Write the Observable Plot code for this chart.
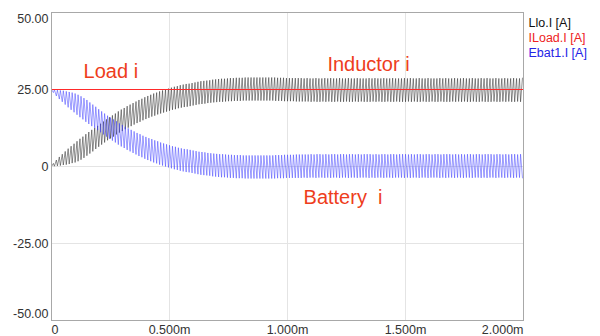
<!DOCTYPE html>
<html><head><meta charset="utf-8">
<script src="https://cdn.jsdelivr.net/npm/d3@7"></script>
<script src="https://cdn.jsdelivr.net/npm/@observablehq/plot@0.6"></script>
<style>
body{margin:0;background:#fff}
#chart{width:600px;height:336px;overflow:hidden}
</style>
</head><body><div id="chart"></div>
<script>
// switching cycle (ms) and the fraction of it where the inductor current peaks
const period = 0.0125;
const riseFrac = 0.65;

// Llo.I [A] - inductor current, trough / peak of each switching cycle
const lloTrough = [
 0.0, 0.1, 0.2, 0.3, 0.5, 0.6, 0.8, 1.1, 1.3, 1.7,
 2.2, 2.8, 3.5, 4.2, 4.9, 5.7, 6.4, 7.1, 7.8, 8.5,
 9.1, 9.7, 10.4, 11.0, 11.5, 12.1, 12.6, 13.1, 13.6, 14.1,
 14.5, 15.0, 15.4, 15.8, 16.2, 16.5, 16.9, 17.2, 17.5, 17.8,
 18.1, 18.4, 18.6, 18.9, 19.1, 19.3, 19.4, 19.6, 19.8, 20.0,
 20.2, 20.3, 20.4, 20.6, 20.7, 20.8, 20.9, 21.0, 21.0, 21.1,
 21.2, 21.2, 21.3, 21.3, 21.3, 21.4, 21.4, 21.4, 21.4, 21.4,
 21.4, 21.4, 21.4, 21.4, 21.4, 21.4, 21.3, 21.3, 21.3, 21.2,
 21.2, 21.2, 21.2, 21.1, 21.1, 21.1, 21.1, 21.1, 21.0, 21.1,
 21.0, 21.0, 21.1, 21.0, 21.1, 21.0, 21.0, 21.1, 21.0, 21.0,
 21.1, 21.0, 21.0, 21.1, 21.0, 21.1, 21.0, 21.0, 21.0, 21.1,
 21.0, 21.1, 21.0, 21.0, 21.1, 21.0, 21.0, 21.1, 21.0, 21.0,
 21.0, 21.1, 21.0, 21.1, 21.0, 21.0, 21.1, 21.0, 21.0, 21.1,
 21.0, 21.0, 21.1, 21.0, 21.0, 21.0, 21.1, 21.0, 21.1, 21.0,
 21.1, 21.0, 21.0, 21.1, 21.0, 21.0, 21.1, 21.0, 21.0, 21.0,
 21.1, 21.0, 21.0, 21.1, 21.0, 21.1, 21.0, 21.0, 21.1, 21.0
];
const lloPeak = [
 1.0, 2.1, 3.1, 4.0, 4.9, 5.8, 6.6, 7.4, 8.2, 9.0,
 9.7, 10.5, 11.2, 11.9, 12.5, 13.2, 13.9, 14.6, 15.3, 16.0,
 16.6, 17.2, 17.9, 18.5, 19.0, 19.6, 20.1, 20.6, 21.1, 21.6,
 22.0, 22.5, 22.9, 23.3, 23.7, 24.0, 24.4, 24.7, 25.0, 25.3,
 25.6, 25.9, 26.1, 26.4, 26.6, 26.8, 26.9, 27.1, 27.3, 27.5,
 27.7, 27.8, 27.9, 28.0, 28.2, 28.3, 28.4, 28.5, 28.5, 28.6,
 28.7, 28.7, 28.8, 28.8, 28.8, 28.9, 28.9, 28.9, 28.9, 28.9,
 28.9, 28.9, 28.9, 28.9, 28.9, 28.9, 28.8, 28.8, 28.8, 28.7,
 28.7, 28.7, 28.7, 28.7, 28.7, 28.6, 28.7, 28.6, 28.6, 28.7,
 28.6, 28.6, 28.7, 28.6, 28.7, 28.6, 28.6, 28.7, 28.6, 28.6,
 28.7, 28.6, 28.6, 28.7, 28.6, 28.6, 28.6, 28.7, 28.6, 28.7,
 28.6, 28.6, 28.7, 28.6, 28.6, 28.7, 28.6, 28.6, 28.6, 28.7,
 28.6, 28.7, 28.6, 28.6, 28.7, 28.6, 28.6, 28.7, 28.6, 28.6,
 28.6, 28.7, 28.6, 28.7, 28.6, 28.6, 28.7, 28.6, 28.6, 28.7,
 28.6, 28.6, 28.7, 28.6, 28.6, 28.7, 28.6, 28.7, 28.6, 28.6,
 28.7, 28.6, 28.6, 28.7, 28.6, 28.6, 28.7, 28.6, 28.6, 28.7
];

// Ebat1.I [A] - battery current, peak / trough of each switching cycle
const ebatPeak = [
 25.0, 24.9, 24.8, 24.7, 24.6, 24.4, 24.2, 24.0, 23.7, 23.3,
 22.8, 22.2, 21.6, 20.8, 20.1, 19.4, 18.6, 17.9, 17.2, 16.5,
 15.9, 15.3, 14.7, 14.0, 13.5, 12.9, 12.4, 11.9, 11.4, 10.9,
 10.5, 10.0, 9.6, 9.2, 8.9, 8.5, 8.2, 7.8, 7.5, 7.2,
 6.9, 6.6, 6.4, 6.1, 5.9, 5.7, 5.6, 5.4, 5.2, 5.0,
 4.8, 4.7, 4.6, 4.4, 4.3, 4.2, 4.1, 4.0, 4.0, 3.9,
 3.8, 3.8, 3.7, 3.7, 3.7, 3.6, 3.6, 3.6, 3.6, 3.6,
 3.6, 3.6, 3.6, 3.6, 3.6, 3.6, 3.7, 3.7, 3.7, 3.8,
 3.8, 3.8, 3.8, 3.9, 3.9, 3.9, 3.9, 3.9, 4.0, 3.9,
 4.0, 4.0, 3.9, 4.0, 3.9, 4.0, 4.0, 3.9, 4.0, 4.0,
 3.9, 4.0, 4.0, 3.9, 4.0, 3.9, 4.0, 4.0, 4.0, 3.9,
 4.0, 3.9, 4.0, 4.0, 3.9, 4.0, 4.0, 3.9, 4.0, 4.0,
 4.0, 3.9, 4.0, 3.9, 4.0, 4.0, 3.9, 4.0, 4.0, 3.9,
 4.0, 4.0, 3.9, 4.0, 4.0, 4.0, 3.9, 4.0, 3.9, 4.0,
 3.9, 4.0, 4.0, 3.9, 4.0, 4.0, 3.9, 4.0, 4.0, 4.0,
 3.9, 4.0, 4.0, 3.9, 4.0, 3.9, 4.0, 4.0, 3.9, 4.0
];
const ebatTrough = [
 24.0, 22.9, 21.9, 21.0, 20.1, 19.2, 18.4, 17.6, 16.8, 16.0,
 15.3, 14.5, 13.8, 13.1, 12.5, 11.8, 11.1, 10.4, 9.7, 9.0,
 8.4, 7.8, 7.1, 6.5, 6.0, 5.4, 4.9, 4.4, 3.9, 3.4,
 3.0, 2.5, 2.1, 1.7, 1.3, 1.0, 0.6, 0.3, 0.0, -0.3,
 -0.6, -0.9, -1.1, -1.4, -1.6, -1.8, -1.9, -2.1, -2.3, -2.5,
 -2.7, -2.8, -2.9, -3.0, -3.2, -3.3, -3.4, -3.5, -3.5, -3.6,
 -3.7, -3.7, -3.8, -3.8, -3.8, -3.9, -3.9, -3.9, -3.9, -3.9,
 -3.9, -3.9, -3.9, -3.9, -3.9, -3.9, -3.8, -3.8, -3.8, -3.7,
 -3.7, -3.7, -3.7, -3.7, -3.7, -3.6, -3.7, -3.6, -3.6, -3.7,
 -3.6, -3.6, -3.7, -3.6, -3.7, -3.6, -3.6, -3.7, -3.6, -3.6,
 -3.7, -3.6, -3.6, -3.7, -3.6, -3.6, -3.6, -3.7, -3.6, -3.7,
 -3.6, -3.6, -3.7, -3.6, -3.6, -3.7, -3.6, -3.6, -3.6, -3.7,
 -3.6, -3.7, -3.6, -3.6, -3.7, -3.6, -3.6, -3.7, -3.6, -3.6,
 -3.6, -3.7, -3.6, -3.7, -3.6, -3.6, -3.7, -3.6, -3.6, -3.7,
 -3.6, -3.6, -3.7, -3.6, -3.6, -3.7, -3.6, -3.7, -3.6, -3.6,
 -3.7, -3.6, -3.6, -3.7, -3.6, -3.6, -3.7, -3.6, -3.6, -3.7
];

// ILoad.I [A] - constant load current
const loadTime = [0, 2];
const loadValue = [25, 25];

const xTicks = [0, 0.5, 1, 1.5, 2];
const xTickLabels = ["0", "0.500m", "1.000m", "1.500m", "2.000m"];
const yTicks = [50, 25, 0, -25, -50];
const yTickLabels = ["50.00", "25.00", "0", "-25.00", "-50.00"];

const legendLabels = ["Llo.I [A]", "ILoad.I [A]", "Ebat1.I [A]"];
const legendColors = ["#111111", "#ee2222", "#2424e6"];

const noteLabels = ["Load i", "Inductor i", "Battery  i"];
const noteTime = [0.136, 1.169, 1.068];
const noteValue = [30.8, 33.1, -10.1];

// build tables
const llo = [];
const ebat = [];
lloTrough.forEach((v, i) => {
  const t0 = i * period, t1 = t0 + riseFrac * period;
  llo.push({t: t0, v: v}, {t: t1, v: lloPeak[i]});
  ebat.push({t: t0, v: ebatPeak[i]}, {t: t1, v: ebatTrough[i]});
});
const load = loadTime.map((t, i) => ({t, v: loadValue[i]}));
const notes = noteLabels.map((label, i) => ({label, t: noteTime[i], v: noteValue[i]}));

const xf = d => xTickLabels[xTicks.indexOf(d)];
const yf = d => yTickLabels[yTicks.indexOf(d)];
const axisFont = {fill: "#333", tickSize: 0};

const chart = Plot.plot({
  width: 600,
  height: 336,
  marginLeft: 51,
  marginRight: 77,
  marginTop: 12,
  marginBottom: 16,
  style: {fontFamily: "'Liberation Sans', Arial, sans-serif", fontSize: "12.5px", background: "#fff"},
  x: {domain: [0, 2], label: null},
  y: {domain: [-50, 50], label: null},
  marks: [
    Plot.gridX([0.5, 1, 1.5], {stroke: "#e4e4e4", strokeOpacity: 1}),
    Plot.gridY([0, -25], {stroke: "#e4e4e4", strokeOpacity: 1}),
    Plot.line(llo, {x: "t", y: "v", stroke: "#222222", strokeWidth: 0.5}),
    Plot.line(ebat, {x: "t", y: "v", stroke: "#3a3aff", strokeWidth: 0.5}),
    Plot.ruleY(load, {x1: () => loadTime[0], x2: () => loadTime[1], y: "v", stroke: "#ff2a2a", strokeWidth: 1.2}),
    Plot.frame({stroke: "#a8a8a8"}),
    Plot.axisY([25, 0, -25], {...axisFont, tickPadding: 3, tickFormat: yf, label: null}),
    Plot.axisY([50], {...axisFont, tickPadding: 3, tickFormat: yf, dy: 6, label: null}),
    Plot.axisY([-50], {...axisFont, tickPadding: 3, tickFormat: yf, dy: -7, label: null}),
    Plot.axisX([0.5, 1, 1.5], {...axisFont, tickPadding: 5, tickFormat: xf, label: null}),
    Plot.axisX([0], {...axisFont, tickPadding: 5, tickFormat: xf, textAnchor: "start", label: null}),
    Plot.axisX([2], {...axisFont, tickPadding: 5, tickFormat: xf, textAnchor: "end", label: null}),
    Plot.text(notes, {x: "t", y: "v", text: "label", fill: "#ee3d1c", fontSize: 20, textAnchor: "start"}),
    ...legendLabels.map((lab, i) => Plot.text([lab], {
      frameAnchor: "top-right", text: d => d, textAnchor: "start",
      dx: 5, dy: 6 + i * 15, fill: legendColors[i], fontSize: 12.5
    }))
  ]
});
document.getElementById("chart").appendChild(chart);
</script>
</body></html>
